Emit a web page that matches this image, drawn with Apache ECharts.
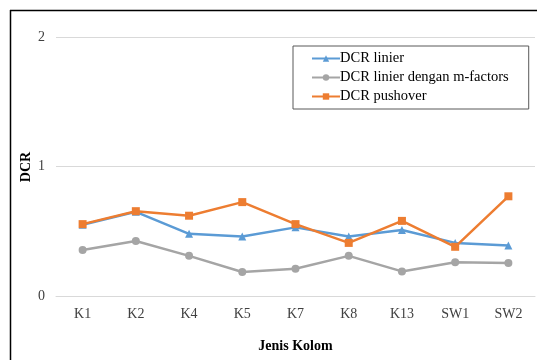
<!DOCTYPE html>
<html>
<head>
<meta charset="utf-8">
<script src="https://cdn.jsdelivr.net/npm/echarts@6/dist/echarts.min.js"></script>
<style>
  html, body { margin: 0; padding: 0; background: #fff; }
  #chart { width: 537px; height: 360px; }
</style>
</head>
<body>
<div id="chart"></div>
<script>
// Column types along the x axis
const categories = ['K1', 'K2', 'K4', 'K5', 'K7', 'K8', 'K13', 'SW1', 'SW2'];

// Demand/capacity ratios per column type
const dcrLinier = [0.55, 0.65, 0.48, 0.46, 0.53, 0.46, 0.51, 0.41, 0.39];
const dcrMFactors = [0.355, 0.425, 0.31, 0.185, 0.21, 0.31, 0.19, 0.26, 0.255];
const dcrPushover = [0.555, 0.655, 0.62, 0.725, 0.555, 0.41, 0.58, 0.38, 0.77];

const seriesNames = ['DCR linier', 'DCR linier dengan m-factors', 'DCR pushover'];
const yTicks = [0, 1, 2];

const FONT = '"Liberation Serif", "Times New Roman", serif';

const chart = echarts.init(document.getElementById('chart'), null, { renderer: 'canvas' });

function lineSeries(name, data, color, symbol, size) {
  return {
    name: name,
    type: 'line',
    data: data,
    symbol: symbol,
    symbolSize: size,
    showAllSymbol: true,
    lineStyle: { color: color, width: 2.5 },
    itemStyle: { color: color },
    emphasis: { disabled: true },
    animation: false
  };
}

chart.setOption({
  backgroundColor: '#ffffff',
  textStyle: { fontFamily: FONT },
  grid: { left: 56, right: 2, top: 37, bottom: 64 },
  legend: {
    data: seriesNames,
    orient: 'vertical',
    left: 293,
    top: 46,
    width: 235,
    padding: [5, 20, 5, 18],
    borderColor: '#595959',
    borderWidth: 1,
    itemWidth: 28,
    itemHeight: 8,
    itemGap: 4,
    textStyle: { fontFamily: FONT, fontSize: 14.5, color: '#000', padding: [0, 0, 0, -5], lineHeight: 15 }
  },
  xAxis: {
    type: 'category',
    data: categories,
    boundaryGap: true,
    name: 'Jenis Kolom',
    nameLocation: 'middle',
    nameGap: 43,
    nameTextStyle: { fontFamily: FONT, fontSize: 14, fontWeight: 'bold', color: '#000' },
    axisLine: { show: true, lineStyle: { color: '#d9d9d9', width: 1 } },
    axisTick: { show: false },
    axisLabel: { fontFamily: FONT, fontSize: 14, color: '#404040', margin: 11 }
  },
  yAxis: {
    type: 'value',
    min: yTicks[0],
    max: yTicks[yTicks.length - 1],
    interval: 1,
    axisLine: { show: false },
    axisTick: { show: false },
    axisLabel: { fontFamily: FONT, fontSize: 14, color: '#404040', margin: 11 },
    splitLine: { lineStyle: { color: '#d9d9d9', width: 1 } }
  },
  series: [
    lineSeries(seriesNames[0], dcrLinier, '#5B9BD5', 'triangle', 8),
    lineSeries(seriesNames[1], dcrMFactors, '#A5A5A5', 'circle', 8),
    lineSeries(seriesNames[2], dcrPushover, '#ED7D31', 'rect', 8)
  ],
  graphic: [
    // frame along the top and left edges
    { type: 'line', shape: { x1: 10, y1: 10.5, x2: 537, y2: 10.5 }, style: { stroke: '#000', lineWidth: 1.5 }, silent: true },
    { type: 'line', shape: { x1: 10.5, y1: 10, x2: 10.5, y2: 360 }, style: { stroke: '#000', lineWidth: 1.5 }, silent: true },
    // vertical axis title
    {
      type: 'text', x: 26, y: 167, rotation: Math.PI / 2, silent: true,
      style: { text: 'DCR', font: 'bold 14px ' + FONT, fill: '#000', align: 'center', verticalAlign: 'middle' }
    }
  ]
});
</script>
</body>
</html>
